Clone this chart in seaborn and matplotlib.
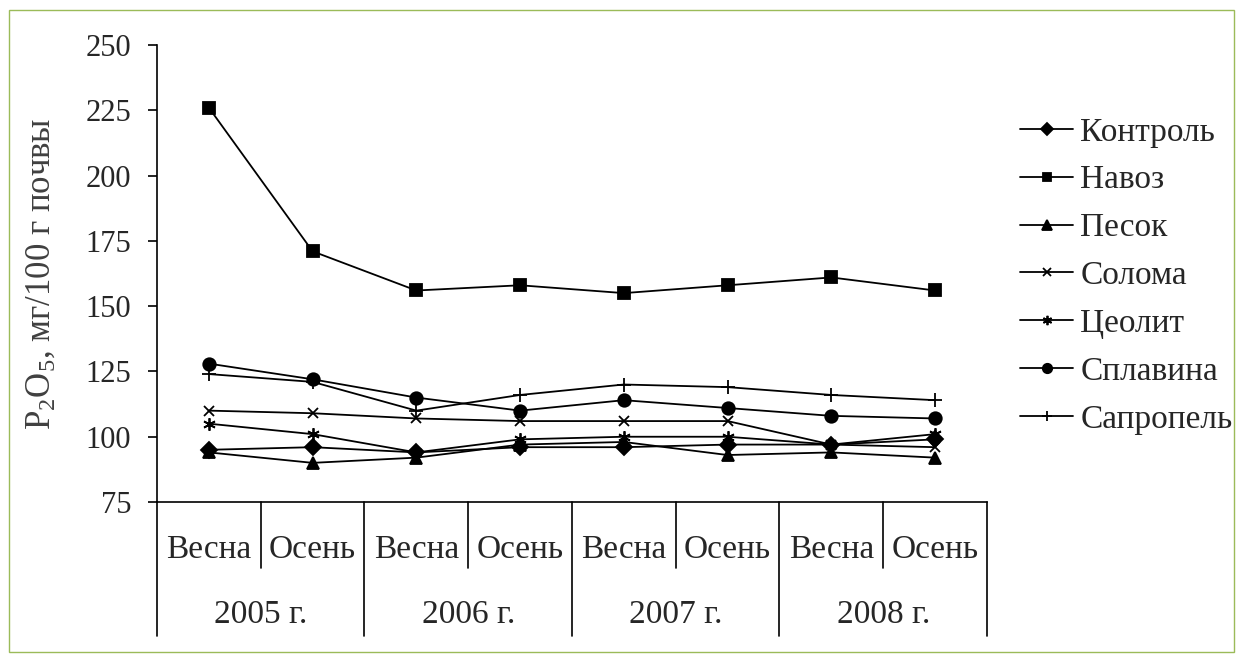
import numpy as np
import pandas as pd
import seaborn as sns
import matplotlib.pyplot as plt
import matplotlib.transforms as mtransforms
from matplotlib.patches import Rectangle

# categories on the x axis
seasons = ['Весна', 'Осень', 'Весна', 'Осень', 'Весна', 'Осень', 'Весна', 'Осень']
years = ['2005 г.', '2006 г.', '2007 г.', '2008 г.']

# P2O5, mg/100 g soil
kontrol = [95, 96, 94, 96, 96, 97, 97, 99]
navoz = [226, 171, 156, 158, 155, 158, 161, 156]
pesok = [94, 90, 92, 97, 98, 93, 94, 92]
soloma = [110, 109, 107, 106, 106, 106, 97, 96]
tseolit = [105, 101, 94, 99, 100, 100, 97, 101]
splavina = [128, 122, 115, 110, 114, 111, 108, 107]
sapropel = [124, 121, 110, 116, 120, 119, 116, 114]

names = ['Контроль', 'Навоз', 'Песок', 'Солома', 'Цеолит', 'Сплавина', 'Сапропель']
series = [kontrol, navoz, pesok, soloma, tseolit, splavina, sapropel]

markers = {'Контроль': 'D', 'Навоз': 's', 'Песок': '^', 'Солома': 'x',
           'Цеолит': (6, 2, 0), 'Сплавина': 'o', 'Сапропель': '+'}
msizes = {'Контроль': 8, 'Навоз': 8.5, 'Песок': 9, 'Солома': 7,
          'Цеолит': 9, 'Сплавина': 9, 'Сапропель': 10}

sns.set_theme(style='white')
plt.rcParams['font.family'] = ['Liberation Serif', 'DejaVu Serif']
plt.rcParams['mathtext.fontset'] = 'custom'
plt.rcParams['mathtext.rm'] = 'Liberation Serif'
fs_tick = 22
fs_cat = 24

fig = plt.figure(figsize=(12.43, 6.61), dpi=100)
ax = fig.add_axes([0.1263, 0.2405, 0.6677, 0.6914])

xpos = np.arange(len(seasons))
for name, vals in zip(names, series):
    d = pd.DataFrame({'x': xpos, 'value': vals})
    sns.lineplot(data=d, x='x', y='value', color='black', marker=markers[name],
                 markersize=msizes[name], linewidth=1.3, markeredgecolor='black',
                 markerfacecolor='black', markeredgewidth=1.3, label=name, ax=ax)

ax.set_xlim(-0.5, 7.5)
ax.set_ylim(75, 250)
ax.set_yticks(np.arange(75, 251, 25))
ax.set_xticks([])
ax.set_xlabel('')
ax.set_ylabel(r'P$\mathregular{_2}$O$\mathregular{_5}$, мг/100 г почвы',
              fontsize=25, color='#404040', labelpad=20)
ax.tick_params(axis='y', direction='out', length=6.5, width=1.2, color='black',
               labelsize=fs_tick, pad=12, left=True)
for s in ['top', 'right']:
    ax.spines[s].set_visible(False)
for s in ['left', 'bottom']:
    ax.spines[s].set_color('black')
    ax.spines[s].set_linewidth(1.2)

# two-level category axis
trans = mtransforms.blended_transform_factory(ax.transData, ax.transAxes)
for b in range(len(seasons) + 1):
    depth = -0.293 if b % 2 == 0 else -0.144
    ax.plot([b - 0.5, b - 0.5], [0, depth], transform=trans, clip_on=False,
            color='black', lw=1.2)
for i, s in enumerate(seasons):
    ax.text(i, -0.105, s, transform=trans, ha='center', va='center', fontsize=fs_cat)
for k, y in enumerate(years):
    ax.text(2 * k + 0.5, -0.247, y, transform=trans, ha='center', va='center', fontsize=fs_cat)

ax.legend(loc='center left', bbox_to_anchor=(1.040, 0.495), frameon=False,
          fontsize=fs_cat, handlelength=1.6, handletextpad=0.2, borderpad=0,
          borderaxespad=0, labelspacing=0.52, markerscale=0.75)

fig.add_artist(Rectangle((9 / 1243, 1 - 652 / 661), 1225 / 1243, 642 / 661,
                         transform=fig.transFigure, fill=False,
                         edgecolor='#9bbb59', lw=1))

fig.savefig('out.png', dpi=100)
